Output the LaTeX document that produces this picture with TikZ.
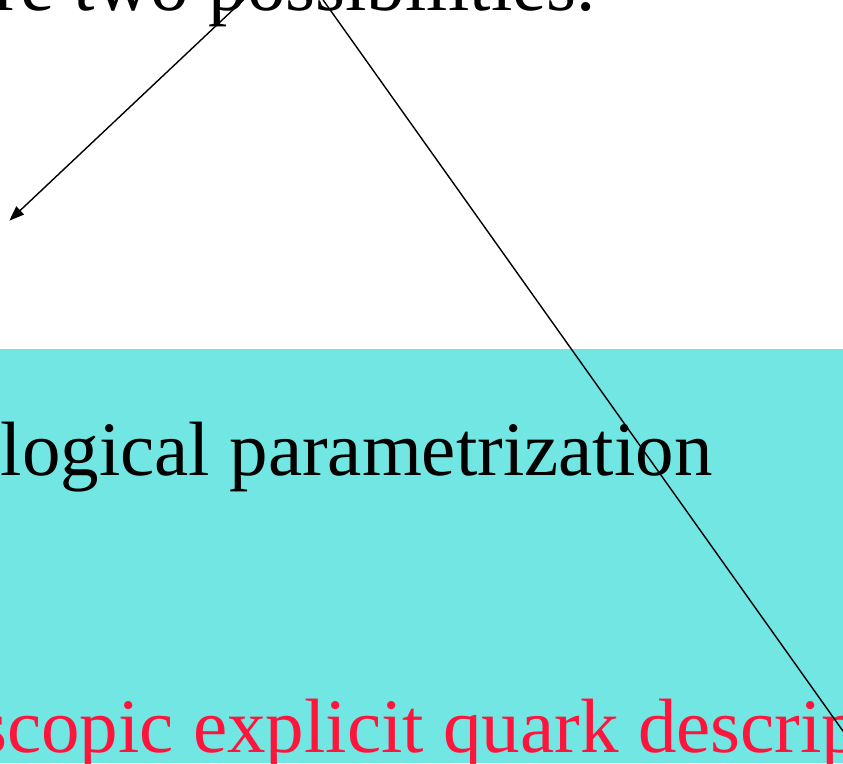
\documentclass[tikz,border=0pt]{standalone}
\usepackage{fontspec}
\setmainfont{Liberation Serif}
\usetikzlibrary{arrows.meta}
\definecolor{slidecyan}{RGB}{114,230,227}
\definecolor{slidered}{RGB}{255,20,60}
\begin{document}
\begin{tikzpicture}[x=1pt,y=-1pt,
  bigtext/.style={inner sep=0pt, font=\fontsize{77}{90}\selectfont},
  link/.style={line width=1.4pt, -{Triangle[length=15pt,width=11pt]}}]
\useasboundingbox (0,0) rectangle (843,763);
\clip (0,0) rectangle (843,763);
\fill[slidecyan] (0,349) rectangle (843,763);
\node[bigtext, anchor=base east] (title) at (596,10) {re two possibilities.};
\node[bigtext, anchor=base west] (pheno) at (0.5,475) {logical parametrization};
\node[bigtext, anchor=base west, text=slidered] (micro) at (-23,752) {scopic explicit quark description};
\coordinate (srcA) at (254,-10);
\coordinate (tipA) at (9.3,220.7);
\coordinate (srcB) at (316,-10);
\coordinate (tipB) at (860,755);
\draw[link] (srcA) -- (tipA);
\draw[link] (srcB) -- (tipB);
\end{tikzpicture}
\end{document}
